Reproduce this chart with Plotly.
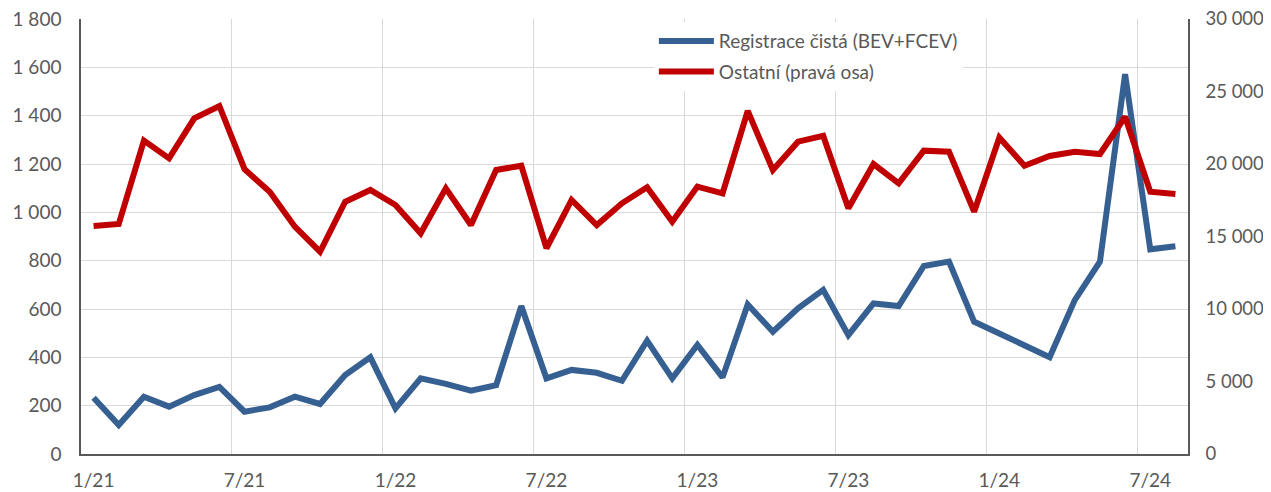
import plotly.graph_objects as go

months = [
    "1/21", "2/21", "3/21", "4/21", "5/21", "6/21", "7/21", "8/21", "9/21", "10/21", "11/21", "12/21",
    "1/22", "2/22", "3/22", "4/22", "5/22", "6/22", "7/22", "8/22", "9/22", "10/22", "11/22", "12/22",
    "1/23", "2/23", "3/23", "4/23", "5/23", "6/23", "7/23", "8/23", "9/23", "10/23", "11/23", "12/23",
    "1/24", "2/24", "3/24", "4/24", "5/24", "6/24", "7/24", "8/24",
]
tick_labels = ["1/21", "7/21", "1/22", "7/22", "1/23", "7/23", "1/24", "7/24"]

bev_fcev = [
    233, 120, 237, 196, 244, 278, 175, 193, 237, 207, 327, 400,
    189, 313, 290, 262, 285, 612, 313, 348, 336, 303, 469, 313,
    451, 317, 619, 506, 603, 679, 492, 623, 612, 778, 796, 547,
    499, 451, 400, 637, 796, 1572, 847, 860,
]
ostatni = [
    15725, 15860, 21610, 20390, 23150, 24000, 19640, 18090, 15680, 13950, 17400, 18210,
    17170, 15220, 18320, 15790, 19590, 19880, 14190, 17520, 15790, 17290, 18390, 16020,
    18440, 17980, 23660, 19590, 21540, 21950, 16950, 20000, 18670, 20920, 20850, 16710,
    21820, 19880, 20550, 20850, 20690, 23260, 18090, 17930,
]

BLUE = "#376092"
RED = "#C00000"
FONT = "Lato"
GREY_TXT = "#595959"
GRID = "#D9D9D9"
AXIS = "#595959"

x_idx = list(range(len(months)))
tick_pos = [months.index(t) for t in tick_labels]
# Excel-style category gridlines sit half a category before each labelled month
grid_pos = [p - 0.5 for p in tick_pos if p > 0]

fig = go.Figure()
fig.add_trace(go.Scatter(
    x=x_idx, y=bev_fcev, mode="lines", name="Registrace čistá (BEV+FCEV)",
    line=dict(color=BLUE, width=6), legendgroup="a", yaxis="y",
    customdata=months, hovertemplate="%{customdata}: %{y}<extra></extra>",
))
fig.add_trace(go.Scatter(
    x=x_idx, y=ostatni, mode="lines", name="Ostatní (pravá osa)",
    line=dict(color=RED, width=6), legendgroup="b", yaxis="y2",
    customdata=months, hovertemplate="%{customdata}: %{y}<extra></extra>",
))

# the page body adds an 8px offset, so the figure is 8px smaller and left/top margins shrink
fig.update_layout(
    width=1263, height=484,
    margin=dict(l=73, r=83, t=11, b=38),
    paper_bgcolor="white", plot_bgcolor="white",
    separators=", ",
    font=dict(family=FONT, size=19, color=GREY_TXT),
    showlegend=True,
    legend=dict(
        x=0.5175, y=0.993, xanchor="left", yanchor="top",
        bgcolor="white", borderwidth=0,
        tracegroupgap=3, traceorder="grouped",
        font=dict(family=FONT, size=19, color=GREY_TXT),
        itemwidth=55,
    ),
    xaxis=dict(
        range=[-0.5, len(months) - 0.5],
        tickmode="array", tickvals=tick_pos, ticktext=tick_labels,
        tickangle=0,
        showgrid=False,
        minor=dict(tickmode="array", tickvals=grid_pos, showgrid=True,
                   gridcolor=GRID, gridwidth=1.3, ticks=""),
        showline=True, linecolor=AXIS, linewidth=1.5,
        ticks="", ticklabelstandoff=8, ticklabeloverflow="allow",
        zeroline=False, automargin=False,
    ),
    yaxis=dict(
        range=[0, 1800], tickmode="linear", tick0=0, dtick=200,
        tickformat=",d",
        showgrid=True, gridcolor=GRID, gridwidth=1.3,
        showline=True, linecolor=AXIS, linewidth=1.5,
        ticks="", ticklabelstandoff=14, ticklabeloverflow="allow",
        zeroline=False, automargin=False,
    ),
    yaxis2=dict(
        range=[0, 30000], tickmode="linear", tick0=0, dtick=5000,
        tickformat=",d",
        overlaying="y", side="right", anchor="x",
        showgrid=False,
        showline=True, linecolor=AXIS, linewidth=1.5,
        ticks="", ticklabelstandoff=12, ticklabeloverflow="allow",
        tickfont=dict(family=FONT, size=18.5, color=GREY_TXT),
        zeroline=False, automargin=False,
    ),
)

fig.write_html("out.html")
